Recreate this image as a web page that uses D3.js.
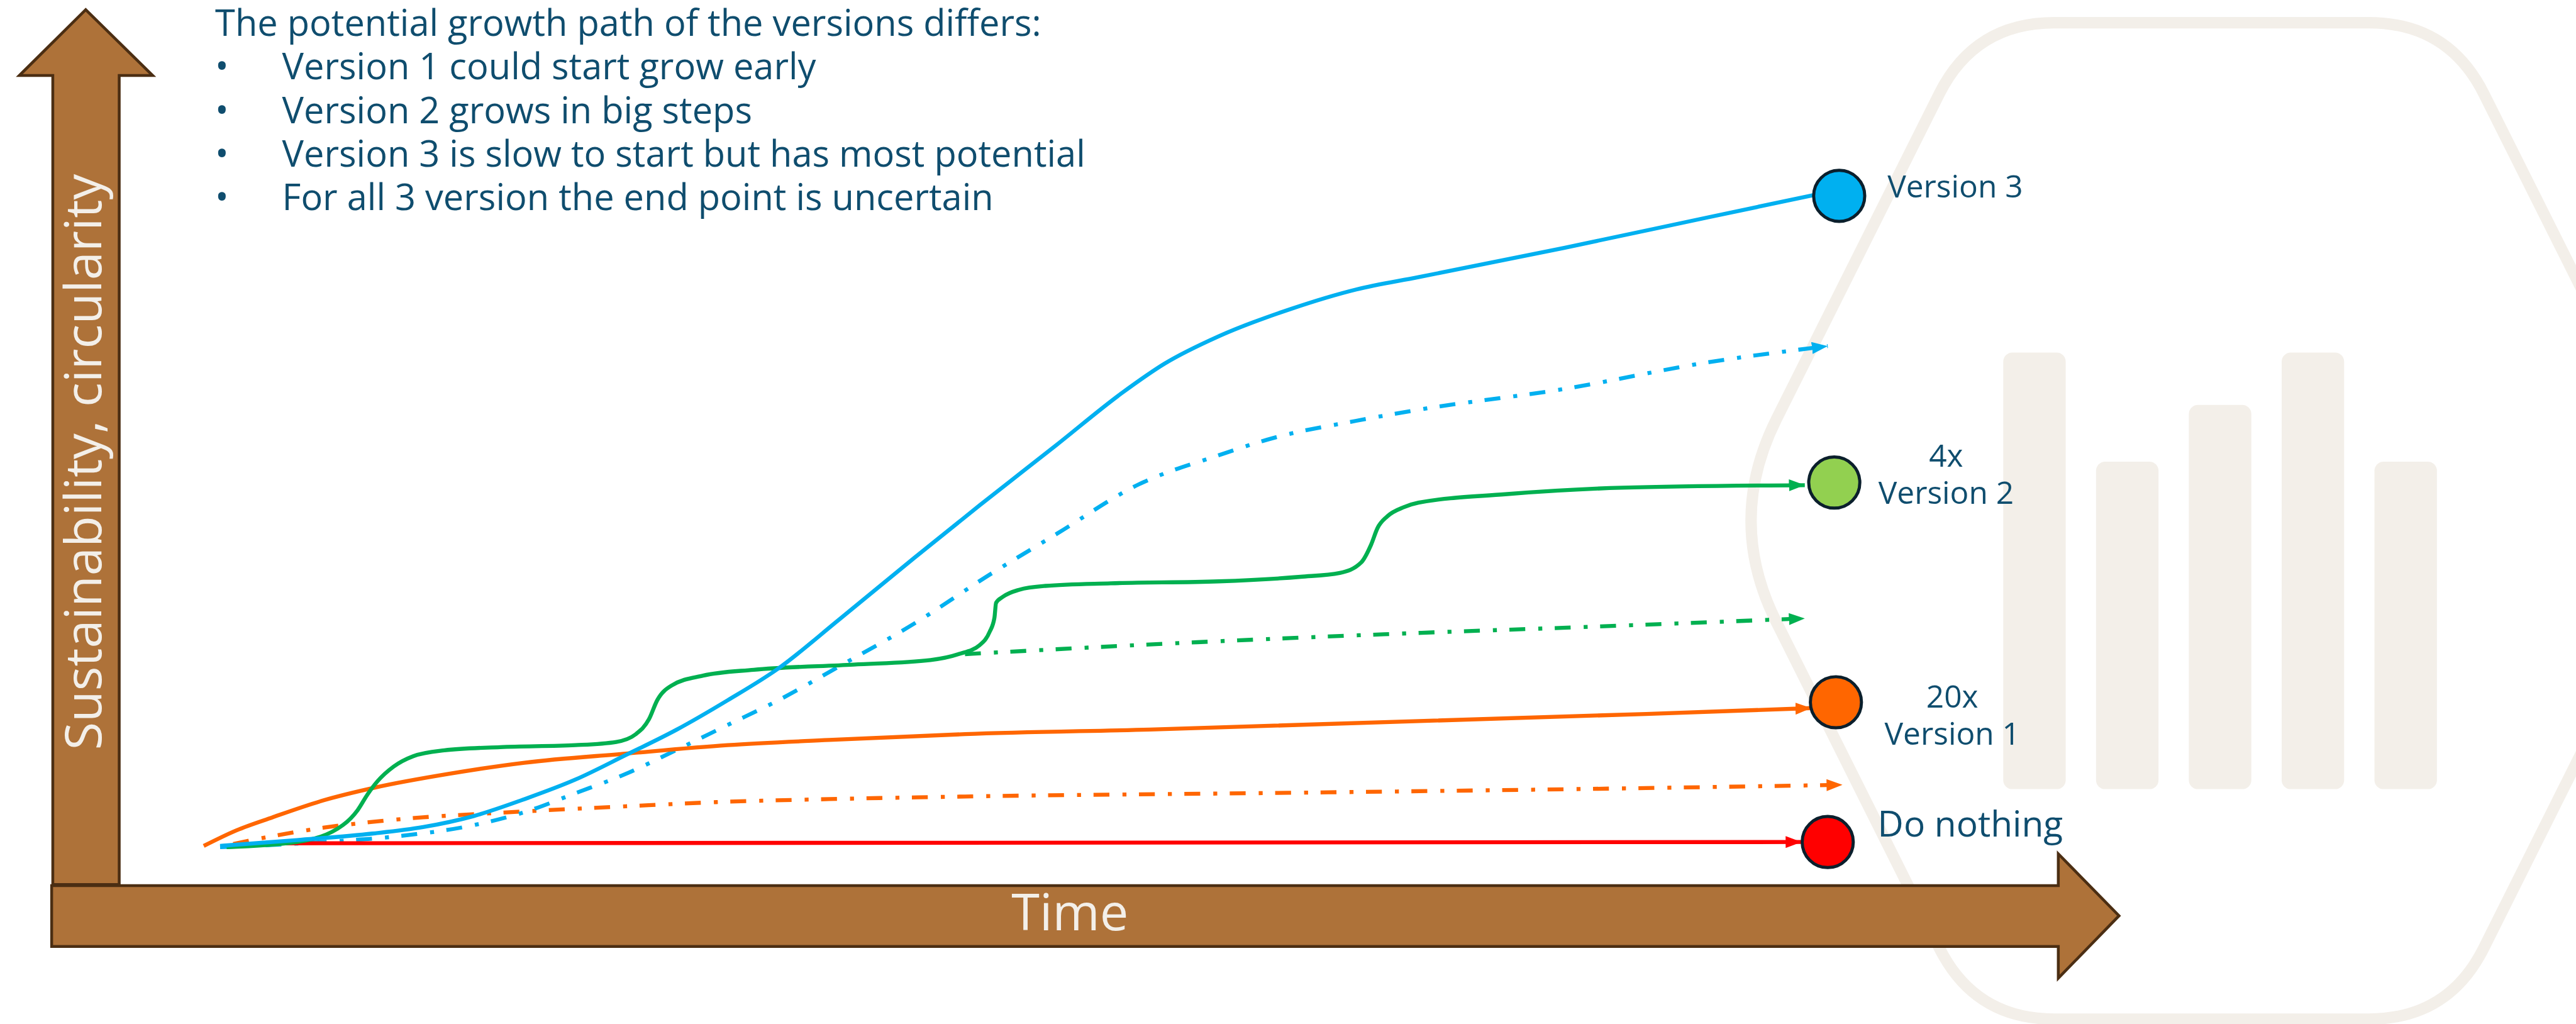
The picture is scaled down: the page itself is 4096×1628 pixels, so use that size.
<!DOCTYPE html>
<html>
<head>
<meta charset="utf-8">
<script src="https://cdn.jsdelivr.net/npm/d3@7"></script>
<style>
  html, body { margin: 0; padding: 0; background: #fff; }
  svg { display: block; }
  text { font-family: 'Open Sans', sans-serif; }
</style>
</head>
<body>
<div class="chart"></div>
<script>
// growth paths, [time, sustainability] on a 0..100 scale
const doNothing = [[4.0, 0.4], [97.7, 0.6]];

const version1 = [[0.1, 0], [2.1, 2.4], [4.3, 4.4], [7.4, 7.0], [10.6, 9.0], [15.1, 11.1],
  [19.7, 12.8], [25.9, 14.2], [32.1, 15.5], [38.3, 16.3], [46.6, 17.2], [57.9, 17.9],
  [88.2, 20.3], [98.3, 21.2]];
const version1Trend = [[1.9, 0.3], [4.3, 1.5], [7.4, 2.8], [10.4, 3.7], [13.5, 4.4], [17.5, 5.0],
  [25.9, 6.1], [32.1, 6.8], [38.3, 7.2], [46.6, 7.6], [67.4, 8.2], [88.2, 8.9], [100.2, 9.4]];

const version2 = [[1.5, -0.2], [5.8, 0.6], [8.6, 3.2], [9.5, 5.5], [10.1, 7.9], [10.7, 9.9],
  [11.7, 12.2], [12.9, 13.8], [14.8, 14.7], [18.2, 15.2], [22.8, 15.5], [25.3, 16.0],
  [26.5, 17.2], [27.3, 19.5], [27.8, 22.4], [28.7, 24.7], [30.6, 26.2], [33.7, 27.1],
  [39.8, 27.9], [44.5, 28.6], [46.2, 29.5], [47.5, 30.9], [48.1, 32.9], [48.4, 35.1],
  [48.5, 37.4], [48.9, 38.3], [49.9, 39.4], [51.5, 40.0], [55.5, 40.4], [62.1, 40.7],
  [67.1, 41.4], [69.5, 42.0], [70.8, 43.6], [71.4, 46.3], [71.8, 48.9], [72.4, 50.7],
  [73.4, 52.1], [74.3, 52.8], [79.6, 54.1], [86.7, 55.1], [97.9, 55.5]];
const version2Trend = [[46.6, 29.5], [58.8, 31.1], [73.6, 32.7], [84.7, 33.7], [97.9, 35.0]];

const version3 = [[1.1, 0], [5.8, 0.9], [10.4, 1.9], [13.5, 2.9], [16.6, 4.6], [19.7, 7.2],
  [22.8, 10.2], [25.9, 14.0], [29.0, 17.9], [32.1, 22.4], [35.2, 27.3], [38.9, 34.8],
  [43.5, 44.3], [47.5, 52.4], [52.2, 61.7], [56.2, 69.7], [58.8, 74.2], [62.1, 78.4],
  [66.5, 82.6], [70.5, 85.6], [74.3, 87.5], [83.2, 92.0], [92.0, 96.7], [98.4, 100.1]];
const version3Trend = [[1.1, -0.2], [7.4, 0.6], [12.0, 1.5], [16.6, 3.2], [19.7, 5.2], [22.8, 8.1],
  [25.9, 11.1], [29.0, 14.8], [32.1, 18.6], [35.2, 22.4], [38.9, 27.6], [43.5, 34.2],
  [47.9, 41.4], [52.2, 48.0], [57.2, 55.6], [62.1, 60.1], [65.5, 62.8], [70.5, 65.4],
  [74.3, 67.1], [83.2, 70.3], [92.0, 74.4], [99.3, 76.9]];

// end points and their labels
const endNames = ['Version 3', 'Version 2', 'Version 1', 'Do nothing'];
const endPoints = [[100.0, 100.0], [99.7, 55.9], [99.8, 22.1], [99.3, 0.6]];
const endTags = ['', '4x', '20x', ''];

const title = 'The potential growth path of the versions differs:';
const notes = [
  'Version 1 could start grow early',
  'Version 2 grows in big steps',
  'Version 3 is slow to start but has most potential',
  'For all 3 version the end point is uncertain'
];
const yTitle = 'Sustainability, circularity';
const xTitle = 'Time';

// faint logo in the background
const logoBars = [100, 75, 88, 100, 75];

const W = 4096, H = 1628;
const k = W / 4538;   // reference was 4538 wide
const ink = '#0F4D6E';
const brown = '#AE7239', brownEdge = '#4B2E13';
const beige = '#F3EFE9';

const svg = d3.select('.chart').append('svg')
  .attr('width', W)
  .attr('height', H);
const defs = svg.append('defs');
const g = svg.append('g').attr('transform', `scale(${k})`);

const x = d3.scaleLinear().domain([0, 100]).range([356, 3240]);
const y = d3.scaleLinear().domain([0, 100]).range([1490, 345]);

// --- background logo: rounded hexagon with bars
const hex = [[3479, 40], [4313, 40], [4752, 917], [4313, 1795], [3479, 1795], [3040, 917]];
const cut = [140, 140, 200, 140, 140, 200];
const hp = d3.path();
hex.forEach((p, i) => {
  const prev = hex[(i + hex.length - 1) % hex.length];
  const next = hex[(i + 1) % hex.length];
  const along = (q, r) => {
    const dx = q[0] - p[0], dy = q[1] - p[1], l = Math.hypot(dx, dy);
    return [p[0] + dx / l * r, p[1] + dy / l * r];
  };
  const a = along(prev, cut[i]), b = along(next, cut[i]);
  if (i === 0) hp.moveTo(a[0], a[1]); else hp.lineTo(a[0], a[1]);
  hp.quadraticCurveTo(p[0], p[1], b[0], b[1]);
});
hp.closePath();
g.append('path')
  .attr('d', hp.toString())
  .attr('fill', 'none')
  .attr('stroke', beige)
  .attr('stroke-width', 20);

const bx = d3.scaleBand().domain(d3.range(logoBars.length))
  .range([3529, 4293]).paddingInner(0.327).paddingOuter(0);
const bh = d3.scaleLinear().domain([0, 100]).range([0, 769]);
g.selectAll('rect.logo')
  .data(logoBars)
  .enter().append('rect')
  .attr('class', 'logo')
  .attr('x', (d, i) => bx(i))
  .attr('y', d => 1390 - bh(d))
  .attr('width', bx.bandwidth())
  .attr('height', d => bh(d))
  .attr('rx', 16)
  .attr('fill', beige);

// --- block arrows as axes
const yArrow = [[93, 1558], [93, 133], [34, 133], [151, 17], [269, 133], [210, 133], [210, 1558]];
const xArrow = [[91, 1560], [3626, 1560], [3626, 1504], [3733, 1613], [3626, 1723], [3626, 1667], [91, 1667]];
[yArrow, xArrow].forEach(pts => {
  g.append('path')
    .attr('d', 'M' + pts.join('L') + 'Z')
    .attr('fill', brown)
    .attr('stroke', brownEdge)
    .attr('stroke-width', 5)
    .attr('stroke-linejoin', 'miter');
});

g.append('text')
  .attr('transform', 'translate(178,814) rotate(-90)')
  .attr('text-anchor', 'middle')
  .attr('font-size', 90)
  .attr('fill', beige)
  .text(yTitle);

g.append('text')
  .attr('x', 1885)
  .attr('y', 1639)
  .attr('text-anchor', 'middle')
  .attr('font-size', 90)
  .attr('fill', beige)
  .text(xTitle);

// --- paths
const series = [
  {values: version1Trend, color: '#FF6600', dash: true, arrow: true},
  {values: version2Trend, color: '#00B050', dash: true, arrow: true},
  {values: version3Trend, color: '#00B0F0', dash: true, arrow: true},
  {values: doNothing, color: '#FF0000', dash: false, arrow: true},
  {values: version1, color: '#FF6600', dash: false, arrow: true},
  {values: version2, color: '#00B050', dash: false, arrow: true},
  {values: version3, color: '#00B0F0', dash: false, arrow: false}
];

Array.from(new Set(series.map(s => s.color))).forEach(c => {
  defs.append('marker')
    .attr('id', 'ah' + c.slice(1))
    .attr('viewBox', '0 0 28 21')
    .attr('refX', 28)
    .attr('refY', 10.5)
    .attr('markerWidth', 28)
    .attr('markerHeight', 21)
    .attr('markerUnits', 'userSpaceOnUse')
    .attr('orient', 'auto')
    .append('path')
    .attr('d', 'M0,0L28,10.5L0,21Z')
    .attr('fill', c);
});

const line = d3.line()
  .x(d => x(d[0]))
  .y(d => y(d[1]))
  .curve(d3.curveMonotoneX);

g.selectAll('path.growth')
  .data(series)
  .enter().append('path')
  .attr('class', 'growth')
  .attr('d', d => line(d.values))
  .attr('fill', 'none')
  .attr('stroke', d => d.color)
  .attr('stroke-width', 7)
  .attr('stroke-dasharray', d => d.dash ? '28 23 7 22' : null)
  .attr('marker-end', d => d.arrow ? `url(#ah${d.color.slice(1)})` : null);

// --- end circles and labels
const fills = ['#00B0F0', '#92D050', '#FF6600', '#FF0000'];
g.selectAll('circle.end')
  .data(endPoints)
  .enter().append('circle')
  .attr('class', 'end')
  .attr('cx', d => x(d[0]))
  .attr('cy', d => y(d[1]))
  .attr('r', 45)
  .attr('fill', (d, i) => fills[i])
  .attr('stroke', '#0B1F2C')
  .attr('stroke-width', 5.5);

// label placement next to each circle: [dx, dy, anchor, size]
const tagPos = [[85, 3, 'start', 55], [197, 37, 'middle', 55], [205, 75, 'middle', 55], [88, -10, 'start', 63]];
endPoints.forEach((p, i) => {
  const [dx, dy, anchor, size] = tagPos[i];
  const cx = x(p[0]), cy = y(p[1]);
  g.append('text')
    .attr('x', cx + dx).attr('y', cy + dy)
    .attr('text-anchor', anchor)
    .attr('font-size', size)
    .attr('fill', ink)
    .text(endNames[i]);
  if (endTags[i]) {
    g.append('text')
      .attr('x', cx + dx).attr('y', cy + dy - 65)
      .attr('text-anchor', anchor)
      .attr('font-size', size)
      .attr('fill', ink)
      .text(endTags[i]);
  }
});

// --- note at top
g.append('text')
  .attr('x', 379).attr('y', 63)
  .attr('font-size', 64)
  .attr('fill', ink)
  .text(title);

notes.forEach((n, i) => {
  const base = 140 + i * 76.7;
  g.append('text')
    .attr('x', 379).attr('y', base)
    .attr('font-size', 64)
    .attr('fill', ink)
    .text('\u2022');
  g.append('text')
    .attr('x', 497).attr('y', base)
    .attr('font-size', 64)
    .attr('fill', ink)
    .text(n);
});
</script>
</body>
</html>
